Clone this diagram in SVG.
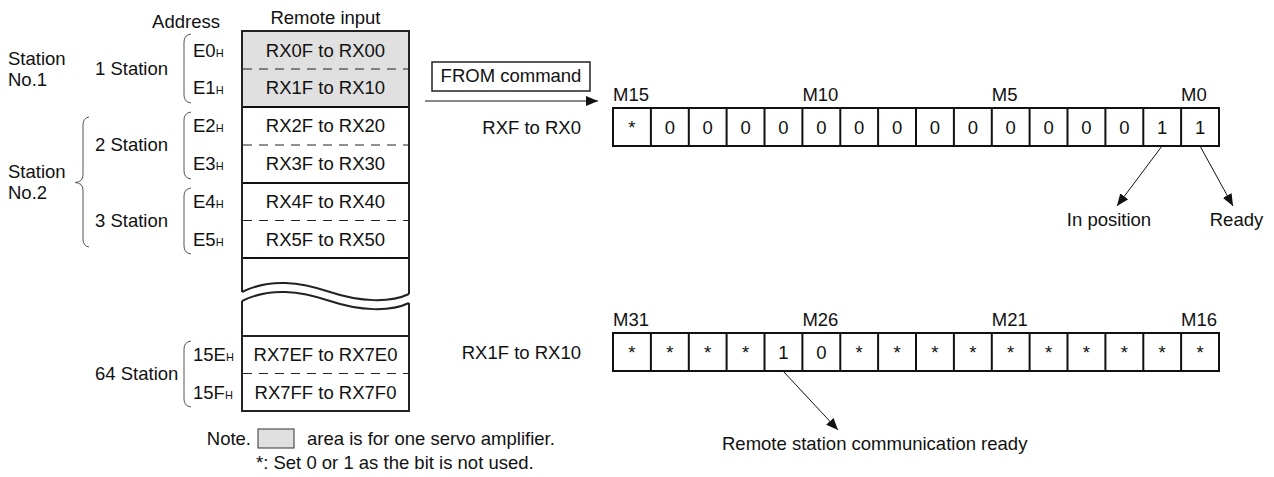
<svg xmlns="http://www.w3.org/2000/svg" width="1274" height="477" viewBox="0 0 1274 477">
<style>
text{font-family:"Liberation Sans",Arial,sans-serif;font-size:18.5px;fill:#111}
.c{text-anchor:middle}
.e{text-anchor:end}
.sub{font-size:11px}
.frame{fill:none;stroke:#222;stroke-width:2}
.solid{stroke:#111;stroke-width:2}
.dash{stroke:#222;stroke-width:1;stroke-dasharray:9 7}
.gray{fill:#e0e0e0}
.brace{fill:none;stroke:#555;stroke-width:1}
.cell{fill:#fff;stroke:#111;stroke-width:2}
.vl{stroke:#111;stroke-width:2}
.arrow{stroke:#111;stroke-width:1;fill:none;marker-end:url(#ah)}
</style>
<defs>
<marker id="ah" viewBox="0 0 12 10" refX="12" refY="5" markerWidth="12" markerHeight="10" orient="auto" markerUnits="userSpaceOnUse"><path d="M0,0 L12,5 L0,10 z" fill="#111"/></marker>
</defs>

<g id="headers">
<text class="c" x="186" y="28">Address</text>
<text class="c" x="325.5" y="23.5">Remote input</text>
</g>

<g id="station-labels">
<text x="8" y="64.5">Station</text>
<text x="8" y="85.5">No.1</text>
<text x="8" y="178">Station</text>
<text x="8" y="199">No.2</text>
<text x="95" y="75.4">1 Station</text>
<text x="95" y="151">2 Station</text>
<text x="95" y="226.6">3 Station</text>
<text x="95" y="380">64 Station</text>
</g>

<g id="braces">
<path class="brace" d="M191,34 Q184,35 184,42 V95 Q184,102 191,103"/>
<path class="brace" d="M191,112 Q184,113 184,120 V171 Q184,178 191,179"/>
<path class="brace" d="M191,188 Q184,189 184,196 V246 Q184,253 191,254"/>
<path class="brace" d="M191,341 Q184,342 184,349 V399 Q184,406 191,407"/>
<path class="brace" d="M89,117 Q83,118 83,125 V175 Q83,182 75,182.5 Q83,183 83,190 V239 Q83,246 89,247"/>
</g>

<g id="addresses">
<text x="193" y="56.5">E0<tspan class="sub">H</tspan></text>
<text x="193" y="94.3">E1<tspan class="sub">H</tspan></text>
<text x="193" y="132.1">E2<tspan class="sub">H</tspan></text>
<text x="193" y="169.9">E3<tspan class="sub">H</tspan></text>
<text x="193" y="207.7">E4<tspan class="sub">H</tspan></text>
<text x="193" y="245.5">E5<tspan class="sub">H</tspan></text>
<text x="193" y="361.1">15E<tspan class="sub">H</tspan></text>
<text x="193" y="398.6">15F<tspan class="sub">H</tspan></text>
</g>

<g id="remote-input-table">
<rect class="gray" x="242" y="31" width="167" height="76"/>
<line class="dash" x1="243" y1="69" x2="408" y2="69"/>
<line class="solid" x1="242" y1="107" x2="409" y2="107"/>
<line class="dash" x1="243" y1="145" x2="408" y2="145"/>
<line class="solid" x1="242" y1="183" x2="409" y2="183"/>
<line class="dash" x1="243" y1="220.5" x2="408" y2="220.5"/>
<line class="solid" x1="242" y1="258" x2="409" y2="258"/>
<path class="frame" d="M242,292 V31 H409 V294"/>
<path class="frame" d="M242,301 V336 M409,303 V336"/>
<path class="frame" d="M242,292 C270,278 300,282 330,292 C360,302 390,303 409,294"/>
<path class="frame" d="M242,301 C270,287 300,291 330,301 C360,311 390,312 409,303"/>
<rect class="frame" x="242" y="336" width="167" height="75"/>
<line class="dash" x1="243" y1="373.5" x2="408" y2="373.5"/>
<text class="c" x="325.5" y="56.5">RX0F to RX00</text>
<text class="c" x="325.5" y="94.3">RX1F to RX10</text>
<text class="c" x="325.5" y="132.1">RX2F to RX20</text>
<text class="c" x="325.5" y="169.9">RX3F to RX30</text>
<text class="c" x="325.5" y="207.7">RX4F to RX40</text>
<text class="c" x="325.5" y="245.5">RX5F to RX50</text>
<text class="c" x="325.5" y="361.1">RX7EF to RX7E0</text>
<text class="c" x="325.5" y="398.6">RX7FF to RX7F0</text>
</g>

<g id="from-command">
<rect x="432" y="62" width="158" height="29" fill="#fff" stroke="#222" stroke-width="1.5"/>
<text class="c" x="511" y="82">FROM command</text>
</g>

<g id="bits-low">
<text class="e" x="581" y="133.6">RXF to RX0</text>
<text x="613" y="101">M15</text>
<text x="802.4" y="101">M10</text>
<text x="991.8" y="101">M5</text>
<text x="1181.1" y="101">M0</text>
<rect class="cell" x="613" y="108" width="606" height="38"/>
<path class="vl" d="M650.9,108V146M688.8,108V146M726.6,108V146M764.5,108V146M802.4,108V146M840.3,108V146M878.1,108V146M916,108V146M953.9,108V146M991.8,108V146M1029.6,108V146M1067.5,108V146M1105.4,108V146M1143.3,108V146M1181.1,108V146"/>
<text class="c" x="631.9" y="133.6">*</text>
<text class="c" x="669.8" y="133.6">0</text>
<text class="c" x="707.7" y="133.6">0</text>
<text class="c" x="745.6" y="133.6">0</text>
<text class="c" x="783.4" y="133.6">0</text>
<text class="c" x="821.3" y="133.6">0</text>
<text class="c" x="859.2" y="133.6">0</text>
<text class="c" x="897.1" y="133.6">0</text>
<text class="c" x="934.9" y="133.6">0</text>
<text class="c" x="972.8" y="133.6">0</text>
<text class="c" x="1010.7" y="133.6">0</text>
<text class="c" x="1048.6" y="133.6">0</text>
<text class="c" x="1086.4" y="133.6">0</text>
<text class="c" x="1124.3" y="133.6">0</text>
<text class="c" x="1162.2" y="133.6">1</text>
<text class="c" x="1200.1" y="133.6">1</text>
</g>

<g id="bits-high">
<text class="e" x="581" y="358.6">RX1F to RX10</text>
<text x="613" y="326">M31</text>
<text x="802.4" y="326">M26</text>
<text x="991.8" y="326">M21</text>
<text x="1181.1" y="326">M16</text>
<rect class="cell" x="613" y="333" width="606" height="38"/>
<path class="vl" d="M650.9,333V371M688.8,333V371M726.6,333V371M764.5,333V371M802.4,333V371M840.3,333V371M878.1,333V371M916,333V371M953.9,333V371M991.8,333V371M1029.6,333V371M1067.5,333V371M1105.4,333V371M1143.3,333V371M1181.1,333V371"/>
<text class="c" x="631.9" y="358.6">*</text>
<text class="c" x="669.8" y="358.6">*</text>
<text class="c" x="707.7" y="358.6">*</text>
<text class="c" x="745.6" y="358.6">*</text>
<text class="c" x="783.4" y="358.6">1</text>
<text class="c" x="821.3" y="358.6">0</text>
<text class="c" x="859.2" y="358.6">*</text>
<text class="c" x="897.1" y="358.6">*</text>
<text class="c" x="934.9" y="358.6">*</text>
<text class="c" x="972.8" y="358.6">*</text>
<text class="c" x="1010.7" y="358.6">*</text>
<text class="c" x="1048.6" y="358.6">*</text>
<text class="c" x="1086.4" y="358.6">*</text>
<text class="c" x="1124.3" y="358.6">*</text>
<text class="c" x="1162.2" y="358.6">*</text>
<text class="c" x="1200.1" y="358.6">*</text>
</g>

<g id="labels">
<text class="c" x="1109" y="225.6">In position</text>
<text class="c" x="1236.5" y="225.6">Ready</text>
<text x="722" y="449.6">Remote station communication ready</text>
</g>

<g id="connectors">
<line class="arrow" x1="425" y1="101" x2="598" y2="101" stroke-width="1.3"/>
<line class="arrow" x1="1162" y1="146" x2="1117" y2="206"/>
<line class="arrow" x1="1200" y1="146" x2="1233" y2="206"/>
<line class="arrow" x1="783" y1="371" x2="838" y2="430"/>
</g>

<g id="note">
<text class="e" x="251" y="444.6">Note.</text>
<rect x="258" y="429" width="36" height="19" fill="#e0e0e0" stroke="#333" stroke-width="1"/>
<text x="307" y="444.6">area is for one servo amplifier.</text>
<text x="256" y="468.6">*: Set 0 or 1 as the bit is not used.</text>
</g>
</svg>
